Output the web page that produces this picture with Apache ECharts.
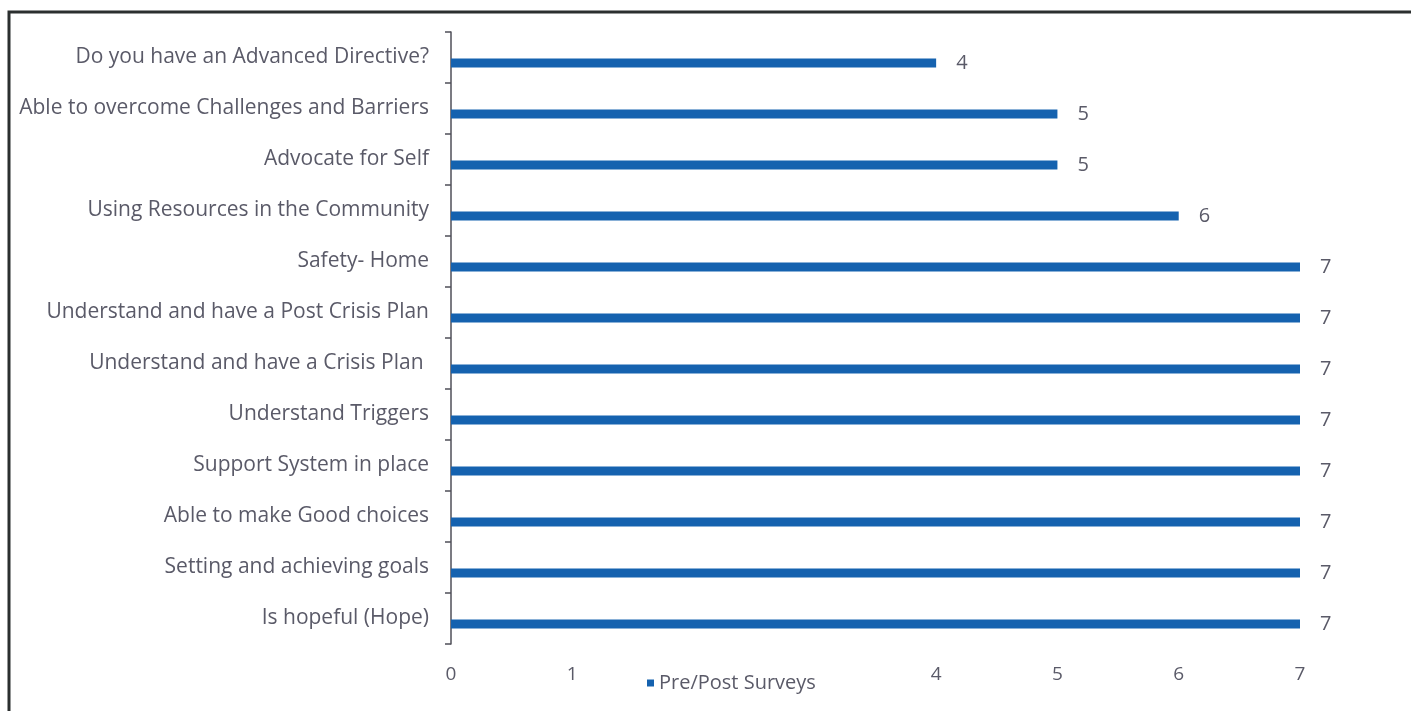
<!DOCTYPE html>
<html>
<head>
<meta charset="utf-8">
<script src="https://cdn.jsdelivr.net/npm/echarts@6/dist/echarts.min.js"></script>
<style>
html,body{margin:0;padding:0;background:#fff;}
#chart{width:1411px;height:711px;}
</style>
</head>
<body>
<div id="chart"></div>
<script>
const categories = [
  "Do you have an Advanced Directive?",
  "Able to overcome Challenges and Barriers",
  "Advocate for Self",
  "Using Resources in the Community",
  "Safety- Home",
  "Understand and have a Post Crisis Plan",
  "Understand and have a Crisis Plan ",
  "Understand Triggers",
  "Support System in place",
  "Able to make Good choices",
  "Setting and achieving goals",
  "Is hopeful (Hope)"
];
const surveyValues = [4, 5, 5, 6, 7, 7, 7, 7, 7, 7, 7, 7];
const seriesName = "Pre/Post Surveys";
const hiddenTickLabels = [2, 3];

const textColor = '#5a5a68';
const chart = echarts.init(document.getElementById('chart'));
chart.setOption({
  animation: false,
  backgroundColor: '#fff',
  textStyle: { fontFamily: 'Open Sans' },
  graphic: [{
    type: 'polyline',
    shape: { points: [[9, 711], [9, 12], [1411, 12]] },
    style: { stroke: '#2b2f2f', lineWidth: 3, fill: null }
  }],
  grid: { left: 451, right: 111, top: 32, bottom: 67, containLabel: false },
  legend: {
    data: [seriesName],
    left: 642,
    top: 668,
    icon: 'rect',
    itemWidth: 7,
    itemHeight: 7,
    itemGap: 6,
    textStyle: { color: textColor, fontSize: 20, fontFamily: 'Open Sans' }
  },
  xAxis: {
    type: 'value',
    min: 0,
    max: 7,
    interval: 1,
    splitLine: { show: false },
    axisLine: { show: false },
    axisTick: { show: false },
    axisLabel: {
      color: textColor,
      fontSize: 19,
      margin: 21,
      formatter: v => hiddenTickLabels.includes(v) ? '' : String(v)
    }
  },
  yAxis: {
    type: 'category',
    data: categories,
    inverse: true,
    axisLine: { show: true, lineStyle: { color: '#4f4f58', width: 1.5 } },
    axisTick: { show: true, length: 6, lineStyle: { color: '#4f4f58', width: 1.5 } },
    axisLabel: { color: textColor, fontSize: 21, margin: 22 }
  },
  series: [
    {
      name: '_blank',
      type: 'bar',
      data: categories.map(() => null),
      barWidth: 9,
      barGap: '22%'
    },
    {
      name: seriesName,
      type: 'bar',
      data: surveyValues,
      barWidth: 9,
      barGap: '22%',
      itemStyle: { color: '#1562af' },
      label: {
        show: true,
        position: 'right',
        distance: 20,
        color: textColor,
        fontSize: 20
      }
    }
  ]
});
</script>
</body>
</html>
